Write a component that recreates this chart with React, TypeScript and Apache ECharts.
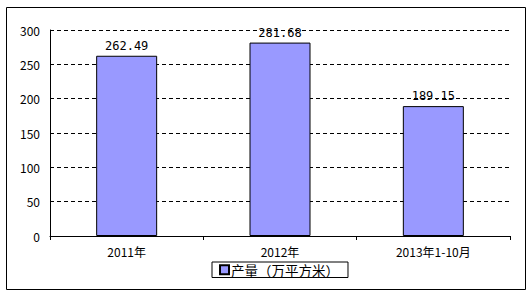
import React, { useEffect, useRef } from "react";
import * as echarts from "echarts";

const categories = ["2011年", "2012年", "2013年1-10月"];
const values = [262.49, 281.68, 189.15];
const seriesName = "产量（万平方米）";
const yMin = 0;
const yMax = 300;
const yInterval = 50;

export default function App() {
  const ref = useRef<HTMLDivElement>(null);
  useEffect(() => {
    if (!ref.current) return;
    const chart = echarts.init(ref.current, undefined, { renderer: "svg" });
    const font = "'Noto Sans CJK SC', sans-serif";
    chart.setOption({
      animation: false,
      backgroundColor: "#fff",
      textStyle: { fontFamily: font, color: "#000" },
      graphic: [
        {
          type: "rect",
          shape: { x: 6.5, y: 7.5, width: 519, height: 282 },
          style: { fill: "none", stroke: "#000", lineWidth: 1 },
          silent: true,
        },
      ],
      grid: { left: 50, right: 21, top: 30, bottom: 62 },
      legend: {
        data: [seriesName],
        left: 212,
        top: 262,
        width: 135,
        borderColor: "#000",
        borderWidth: 1,
        borderRadius: 0,
        padding: [1, 9, 1, 7],
        itemWidth: 9,
        itemHeight: 9,
        icon: "rect",
        textStyle: { fontSize: 13.5, fontFamily: font, color: "#000", padding: [0, 0, 0, -3] },
      },
      xAxis: {
        type: "category",
        data: categories,
        axisLine: { lineStyle: { color: "#000", width: 1 } },
        axisTick: { show: true, length: 4, lineStyle: { color: "#000" } },
        axisLabel: { color: "#000", fontSize: 12, margin: 9, fontFamily: font },
      },
      yAxis: {
        type: "value",
        min: yMin,
        max: yMax,
        interval: yInterval,
        axisLine: { show: true, lineStyle: { color: "#000", width: 1 } },
        axisTick: { show: false },
        axisLabel: { color: "#000", fontSize: 12, margin: 10, fontFamily: font },
        splitLine: { show: true, lineStyle: { color: "#000", type: [4, 3], width: 1 } },
      },
      series: [
        {
          name: seriesName,
          type: "bar",
          data: values,
          barWidth: 61,
          itemStyle: { color: "#9999FF", borderColor: "#000", borderWidth: 1 },
          label: {
            show: true,
            position: "top",
            distance: 4,
            color: "#000",
            fontSize: 12,
            fontFamily: "'DejaVu Sans Mono', monospace",
            formatter: (p: any) => p.value.toFixed(2),
          },
        },
      ],
    });
    return () => chart.dispose();
  }, []);
  return (
    <div
      ref={ref}
      style={{ position: "fixed", left: 0, top: 0, width: 531, height: 298 }}
    />
  );
}
